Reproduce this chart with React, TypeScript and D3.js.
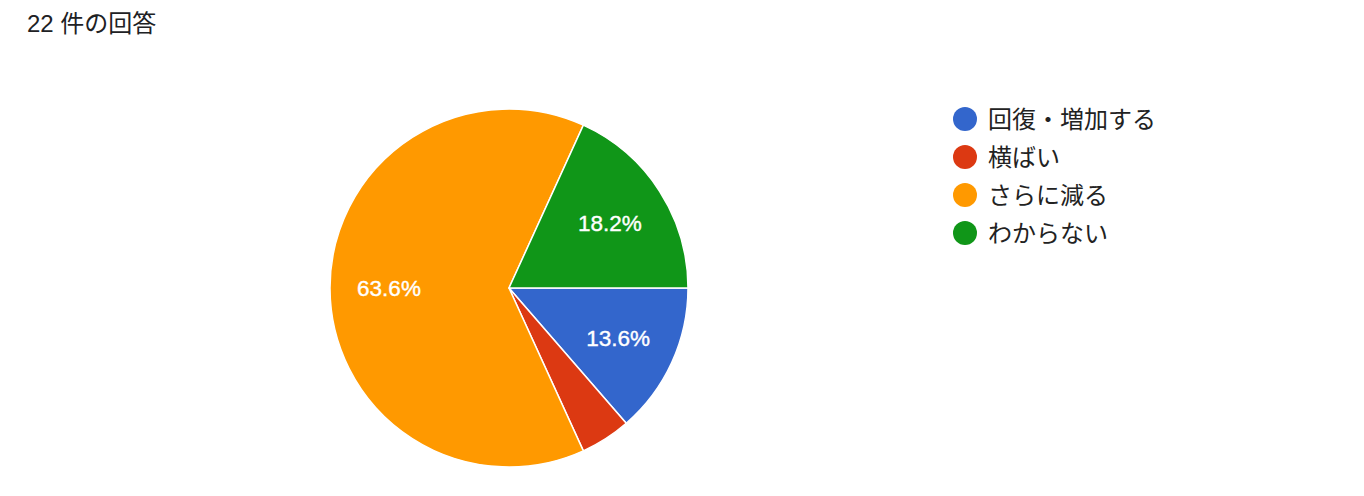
import React from "react";
import * as d3 from "d3";

const title = "22 件の回答";
const categories = ["回復・増加する", "横ばい", "さらに減る", "わからない"];
const counts = [3, 1, 14, 4];
const colors = ["#3366cc", "#dc3912", "#ff9900", "#109618"];

const W = 1364;
const H = 496;
const cx = 509;
const cy = 288;
const R = 179;
const font = "'Liberation Sans', Arial, 'Noto Sans CJK JP', sans-serif";

export default function App() {
  const total = d3.sum(counts);
  const pie = d3
    .pie<number>()
    .sort(null)
    .startAngle(Math.PI / 2)
    .endAngle(Math.PI / 2 + 2 * Math.PI);
  const arcs = pie(counts);
  const arc = d3.arc<d3.PieArcDatum<number>>().innerRadius(0).outerRadius(R);
  const labelArc = d3.arc<d3.PieArcDatum<number>>().innerRadius(240).outerRadius(0);
  const legendY = d3.scalePoint<string>().domain(categories).range([119, 233]);

  return (
    <svg width={W} height={H} style={{ position: "absolute", left: 0, top: 0, background: "#fff" }}>
      <text x={27} y={32} fontFamily={font} fontSize={24} fill="#202124">
        {title}
      </text>
      <g transform={`translate(${cx},${cy})`}>
        {arcs.map((a, i) => (
          <path key={i} d={arc(a) || ""} fill={colors[i]} stroke="#fff" strokeWidth={1.5} />
        ))}
        {arcs.map((a, i) => {
          const frac = a.data / total;
          if (frac < 0.05) return null;
          const [x, y] = labelArc.centroid(a);
          return (
            <text
              key={"l" + i}
              x={x}
              y={y}
              dy="0.35em"
              textAnchor="middle"
              fontFamily={font}
              fontSize={22.5}
              fill="#fff"
              stroke="#fff"
              strokeWidth={0.4}
            >
              {(frac * 100).toFixed(1) + "%"}
            </text>
          );
        })}
      </g>
      <g>
        {categories.map((c, i) => (
          <g key={c} transform={`translate(965,${legendY(c)})`}>
            <circle r={12} fill={colors[i]} />
            <text x={23} dy="0.36em" fontFamily={font} fontSize={24} fill="#222">
              {c}
            </text>
          </g>
        ))}
      </g>
    </svg>
  );
}
